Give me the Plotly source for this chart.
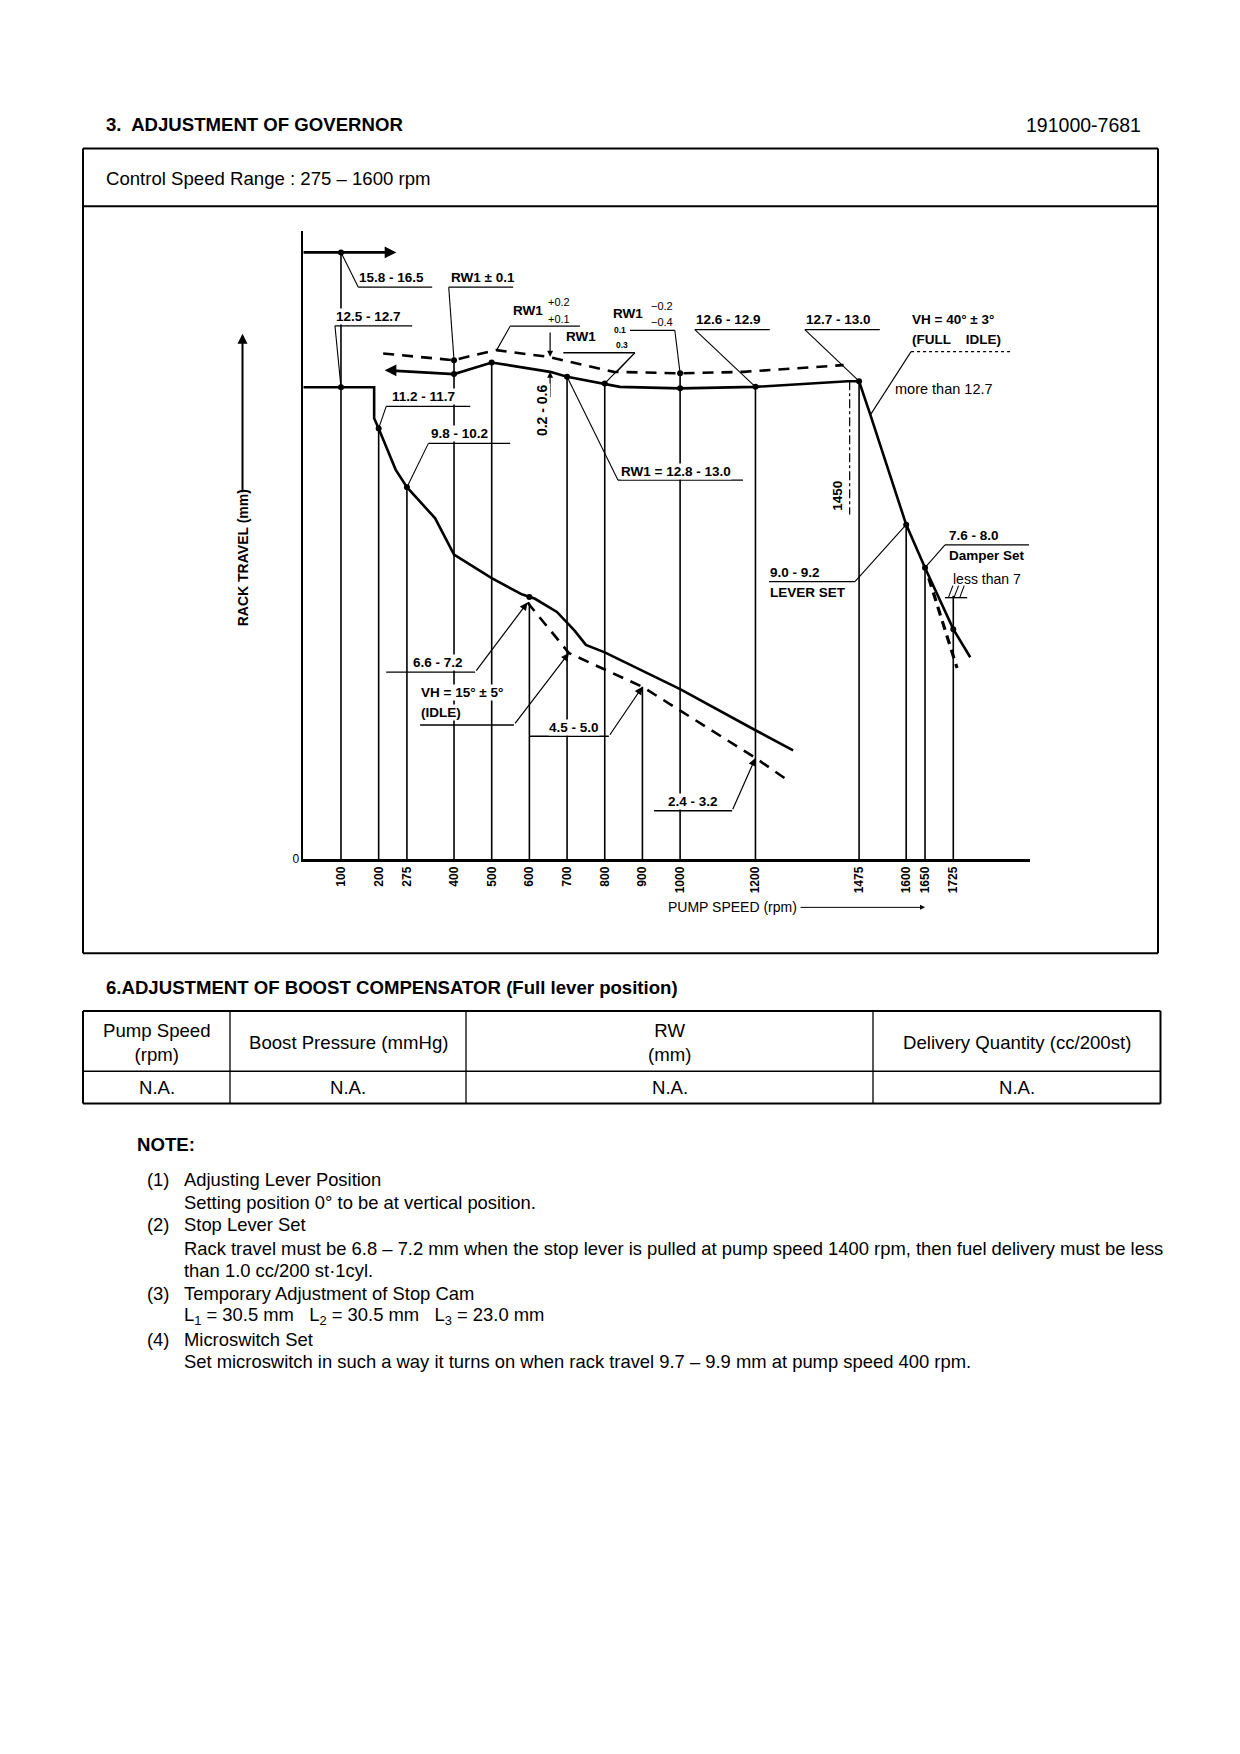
import plotly.graph_objects as go

PAGE_W, PAGE_H = 1240, 1754
BODY_MARGIN = 8  # browser default body margin around the plot div
W, H = PAGE_W - 2 * BODY_MARGIN, PAGE_H - 2 * BODY_MARGIN
FONT = "Liberation Sans, Arial, Helvetica, sans-serif"

# ---------------- data (rpm / rack travel mm) ----------------
SPEEDS = [100, 200, 275, 400, 500, 600, 700, 800, 900, 1000, 1200, 1475, 1600, 1650, 1725]
SPEED_LABELS = ["100", "200", "275", "400", "500", "600", "700", "800", "900",
                "1000", "1200", "1475", "1600", "1650", "1725"]
SPEED_LINE_TOP = [16.2, 11.5, 9.93, 13.32, 13.26, 6.85, 12.88, 12.70, 4.6,
                  12.97, 12.61, 12.76, 8.93, 7.78, 7.03]

MAX_RPM = [0, 235]
MAX_MM = [16.2, 16.2]

FULL_RPM = [224, 400, 500, 655, 700, 800, 840, 1000, 1200, 1445, 1475, 1505, 1600, 1650, 1725, 1770]
FULL_MM = [13.05, 12.95, 13.26, 13.01, 12.88, 12.70, 12.61, 12.57, 12.61, 12.76, 12.76, 11.86, 8.93, 7.78, 6.14, 5.39]

IDLE_RPM = [0, 188, 188, 200, 245, 275, 350, 400, 500, 580, 615, 673, 720, 750, 800, 1000, 1200, 1300]
IDLE_MM = [12.6, 12.6, 11.77, 11.5, 10.4, 9.93, 9.1, 8.13, 7.5, 7.07, 6.95, 6.6, 6.1, 5.72, 5.52, 4.54, 3.44, 2.9]

FULLIDLE_RPM = [212, 400, 451, 513, 549, 651, 824, 1000, 1168, 1434]
FULLIDLE_MM = [13.5, 13.32, 13.45, 13.59, 13.54, 13.41, 13.01, 12.97, 13.01, 13.19]

STOP_RPM = [595, 705, 900, 1200, 1292]
STOP_MM = [6.85, 5.5, 4.6, 2.7, 2.06]

DAMPER_RPM = [1660, 1735]
DAMPER_MM = [7.5, 5.1]

LINE1450_RPM = [1450, 1450]
LINE1450_MM = [12.76, 9.2]

DOT_RPM = [100, 100, 200, 275, 400, 400, 500, 600, 700, 800, 1000, 1000, 1200, 1475, 1600, 1650, 1725]
DOT_MM = [16.2, 12.6, 11.5, 9.93, 13.32, 12.95, 13.26, 7.0, 12.88, 12.70, 12.97, 12.57, 12.61, 12.76, 8.93, 7.78, 6.14]

# ---------------- page geometry helpers (page pixels -> paper) ----------------
def px(x):
    return (x - BODY_MARGIN) / W


def py(y):
    return 1 - (y - BODY_MARGIN) / H


X0_PX, X1_PX = 303.3, 1030.0
Y0_PX, Y1_PX = 862.5, 231.7
PX_PER_RPM = 0.3768
PX_PER_MM = 37.6
X_MAX = (X1_PX - X0_PX) / PX_PER_RPM
Y_MAX = (Y0_PX - Y1_PX) / PX_PER_MM

fig = go.Figure()


def line(xs, ys, width=1.2, dash="solid", color="black"):
    fig.add_trace(go.Scatter(x=xs, y=ys, mode="lines", hoverinfo="skip", showlegend=False,
                             line=dict(color=color, width=width, dash=dash)))


# vertical speed lines
vx, vy = [], []
for s, t in zip(SPEEDS, SPEED_LINE_TOP):
    vx += [s, s, None]
    vy += [0, t, None]
line(vx, vy, width=1.6)
line(LINE1450_RPM, LINE1450_MM, width=1.2, dash="dashdot")

# curves
line(MAX_RPM, MAX_MM, width=2.6)
line(FULL_RPM, FULL_MM, width=2.6)
line(IDLE_RPM, IDLE_MM, width=2.6)
line(FULLIDLE_RPM, FULLIDLE_MM, width=2.6, dash="11px,8px")
line(STOP_RPM, STOP_MM, width=2.6, dash="11px,8px")
line(DAMPER_RPM, DAMPER_MM, width=3.2, dash="9px,6px")

fig.add_trace(go.Scatter(x=DOT_RPM, y=DOT_MM, mode="markers", hoverinfo="skip", showlegend=False,
                         marker=dict(color="black", size=6)))


def arrow(tip, tail, width=1.2, head=2, size=1.0):
    fig.add_annotation(x=tip[0], y=tip[1], ax=tail[0], ay=tail[1], xref="x", yref="y",
                       axref="x", ayref="y", text="", showarrow=True, arrowhead=head,
                       arrowsize=size, arrowwidth=width, arrowcolor="black", standoff=0)


arrow((MAX_RPM[1] + 12, MAX_MM[1]), (MAX_RPM[1] - 20, MAX_MM[1]), width=2.6, size=0.9)
arrow((FULL_RPM[0] - 8, FULL_MM[0]), (FULL_RPM[0] + 25, FULL_MM[0]), width=2.6, size=0.9)

# ---------------- annotation geometry ----------------
UNDERLINES = [(146, 342, 15.27), (386, 557, 15.27), (549, 734, 14.23), (690, 880, 13.52),
              (867, 986, 14.12), (1039, 1238, 14.14), (1331, 1530, 14.14), (220, 443, 12.09),
              (332, 549, 11.1), (835, 1167, 10.12), (1236, 1464, 7.41), (1703, 1926, 8.39),
              (220, 456, 4.99), (310, 559, 3.58), (600, 811, 3.28), (931, 1138, 1.29),
              (84, 289, 14.24), (1703, 1762, 6.98)]
LEADERS = [[(146, 15.27), (100, 16.2)], [(386, 15.27), (400, 13.32)], [(549, 14.23), (513, 13.59)],
           [(832, 13.01), (880, 13.52), (800, 12.70)], [(986, 14.12), (1000, 12.97)],
           [(1039, 14.14), (1200, 12.61)], [(1331, 14.14), (1475, 12.76)],
           [(1613, 13.55), (1505, 11.86)], [(220, 12.09), (200, 11.5)], [(332, 11.1), (275, 9.93)],
           [(835, 10.12), (700, 12.88)], [(1464, 7.41), (1600, 8.93)], [(1703, 8.39), (1650, 7.78)],
           [(84, 14.24), (100, 12.6)],
           [(1712, 6.98), (1724, 7.3)], [(1727, 6.98), (1739, 7.3)], [(1742, 6.98), (1754, 7.3)]]
ux, uy = [], []
for a, b, c in UNDERLINES:
    ux += [a, b, None]
    uy += [c, c, None]
line(ux, uy, width=1.3)
lx, ly = [], []
for pl in LEADERS:
    for p in pl:
        lx.append(p[0])
        ly.append(p[1])
    lx.append(None)
    ly.append(None)
line(lx, ly, width=1.1)
line([1613, 1881], [13.55, 13.55], width=1.3, dash="dot")

for tail, tip in [((456, 4.99), (595, 6.85)), ((559, 3.58), (705, 5.5)),
                  ((811, 3.28), (900, 4.6)), ((1138, 1.29), (1200, 2.7))]:
    arrow(tip, tail, width=1.2, head=2, size=1.3)
arrow((655, 13.41), (655, 14.1), width=1.2, head=2, size=1.0)
arrow((655, 13.01), (655, 12.3), width=1.2, head=2, size=1.0)


def clab(text, x, y, size=13.5, bold=True, angle=0, bg=True, xanchor="left"):
    fig.add_annotation(x=x, y=y, xref="x", yref="y", text=(f"<b>{text}</b>" if bold else text),
                       showarrow=False, xanchor=xanchor, yanchor="middle", textangle=angle,
                       font=dict(family=FONT, size=size, color="black"),
                       bgcolor="white" if bg else "rgba(0,0,0,0)", borderpad=0)


LABELS = [("15.8 - 16.5", 146, 15.54), ("RW1 ± 0.1", 389, 15.54), ("12.5 - 12.7", 84, 14.49),
          ("RW1", 553, 14.65), ("RW1", 695, 13.95), ("RW1", 818, 14.56),
          ("12.6 - 12.9", 1039, 14.40), ("12.7 - 13.0", 1331, 14.40),
          ("VH = 40° ± 3°", 1613, 14.40), ("(FULL    IDLE)", 1613, 13.87),
          ("11.2 - 11.7", 233, 12.35), ("9.8 - 10.2", 336, 11.36),
          ("RW1 = 12.8 - 13.0", 840, 10.36), ("9.0 - 9.2", 1236, 7.66), ("LEVER SET", 1236, 7.12),
          ("7.6 - 8.0", 1711, 8.64), ("Damper Set", 1711, 8.1),
          ("6.6 - 7.2", 288, 5.24), ("VH = 15° ± 5°", 310, 4.45), ("(IDLE)", 310, 3.91),
          ("4.5 - 5.0", 649, 3.52), ("2.4 - 3.2", 965, 1.55)]
for t, x, y in LABELS:
    clab(t, x, y)
for t, x, y in [("+0.2", 646, 14.87), ("+0.1", 646, 14.43), ("−0.2", 920, 14.78), ("−0.4", 920, 14.34)]:
    clab(t, x, y, size=11, bold=False, bg=False)
for t, x, y in [("0.1", 822, 14.12), ("0.3", 826, 13.72)]:
    clab(t, x, y, size=8.5, bold=True, bg=False)
clab("more than 12.7", 1568, 12.54, size=14.5, bold=False, bg=False)
clab("less than 7", 1722, 7.49, size=14, bold=False, bg=False)
clab("0.2 - 0.6", 632, 12.0, size=14, angle=-90, xanchor="center")
clab("1450", 1419, 9.7, size=13.5, angle=-90, xanchor="center")

# axis titles
fig.add_annotation(x=px(242.5), y=py(560), xref="paper", yref="paper", text="<b>RACK TRAVEL (mm)</b>",
                   showarrow=False, textangle=-90, xanchor="center", yanchor="middle",
                   font=dict(family=FONT, size=14, color="black"), bgcolor="white", borderpad=0)
fig.add_annotation(x=px(242.5), y=py(335), ax=0, ay=160, xref="paper", yref="paper", text="",
                   showarrow=True, arrowhead=2, arrowsize=1, arrowwidth=2, arrowcolor="black", standoff=0)
fig.add_annotation(x=px(666), y=py(911), xref="paper", yref="paper", text="PUMP SPEED (rpm)",
                   showarrow=False, xanchor="left", yanchor="middle",
                   font=dict(family=FONT, size=14, color="black"))
fig.add_annotation(x=px(925), y=py(911), ax=-126, ay=0, xref="paper", yref="paper", text="",
                   showarrow=True, arrowhead=2, arrowsize=1, arrowwidth=1, arrowcolor="black", standoff=0)

# ---------------- document text ----------------
def dtext(text, x, y, size=18.6, xanchor="left"):
    fig.add_annotation(x=px(x), y=py(y), xref="paper", yref="paper", text=text, showarrow=False,
                       xanchor=xanchor, yanchor="middle", align="center",
                       font=dict(family=FONT, size=size, color="black"))


dtext("<b>3.  ADJUSTMENT OF GOVERNOR</b>", 104, 125)
dtext("191000-7681", 1143, 125, size=19.5, xanchor="right")
dtext("Control Speed Range : 275 – 1600 rpm", 104, 179)
dtext("<b>6.ADJUSTMENT OF BOOST COMPENSATOR (Full lever position)</b>", 104, 991)

TABLE_HEAD = ["Pump Speed<br>(rpm)", "Boost Pressure (mmHg)", "RW<br>(mm)", "Delivery Quantity (cc/200st)"]
TABLE_ROW = ["N.A.", "N.A.", "N.A.", "N.A."]
COL_EDGES = [83, 230, 466, 873, 1160.5]
for i, (hd, rv) in enumerate(zip(TABLE_HEAD, TABLE_ROW)):
    cx = (COL_EDGES[i] + COL_EDGES[i + 1]) / 2
    dtext(hd, cx, 1047, xanchor="center")
    dtext(rv, cx, 1092, xanchor="center")

dtext("<b>NOTE:</b>", 135, 1149)
NOTES = [("(1)", "Adjusting Lever Position"), ("", "Setting position 0° to be at vertical position."),
         ("(2)", "Stop Lever Set"),
         ("", "Rack travel must be 6.8 – 7.2 mm when the stop lever is pulled at pump speed 1400 rpm, then fuel delivery must be less"),
         ("", "than 1.0 cc/200 st·1cyl."), ("(3)", "Temporary Adjustment of Stop Cam"),
         ("", "L<sub>1</sub> = 30.5 mm\u00a0\u00a0\u00a0L<sub>2</sub> = 30.5 mm\u00a0\u00a0\u00a0L<sub>3</sub> = 23.0 mm"),
         ("(4)", "Microswitch Set"),
         ("", "Set microswitch in such a way it turns on when rack travel 9.7 – 9.9 mm at pump speed 400 rpm.")]
NOTE_Y = [1184, 1207.5, 1229.8, 1253.4, 1275.7, 1299.2, 1321.5, 1345, 1367.4]
for (num, txt), yy in zip(NOTES, NOTE_Y):
    if num:
        dtext(num, 145, yy, size=18.4)
    dtext(txt, 182, yy, size=18.4)

# ---------------- frames ----------------
def pline(x0, y0, x1, y1, w=2.0):
    fig.add_shape(type="line", xref="paper", yref="paper", x0=px(x0), y0=py(y0), x1=px(x1), y1=py(y1),
                  line=dict(color="black", width=w))


pline(83, 149, 1158, 149)
pline(83, 207, 1158, 207)
pline(83, 957, 1158, 957)
pline(83, 149, 83, 957)
pline(1158, 149, 1158, 957)
pline(83, 1015, 1160.5, 1015)
pline(83, 1075.6, 1160.5, 1075.6, 1.5)
pline(83, 1108, 1160.5, 1108)
pline(83, 1015, 83, 1108)
pline(1160.5, 1015, 1160.5, 1108)
for xc in COL_EDGES[1:-1]:
    pline(xc, 1015, xc, 1108, 1.3)

fig.update_layout(
    width=W, height=H, margin=dict(l=0, r=0, t=0, b=0),
    paper_bgcolor="white", plot_bgcolor="white", showlegend=False, hovermode=False,
    xaxis=dict(domain=[px(X0_PX), px(X1_PX)], range=[0, X_MAX], showgrid=False, zeroline=False,
               showline=True, linecolor="black", linewidth=2.5, ticks="",
               tickmode="array", tickvals=SPEEDS, ticktext=SPEED_LABELS, tickangle=-90,
               tickfont=dict(family=FONT, size=12, color="black", weight="bold")),
    yaxis=dict(domain=[py(Y0_PX), py(Y1_PX)], range=[0, Y_MAX], showgrid=False, zeroline=False,
               showline=True, linecolor="black", linewidth=1.5, ticks="",
               tickmode="array", tickvals=[0], ticktext=["0"],
               tickfont=dict(family=FONT, size=12, color="black")),
)

fig.write_html("out.html", config={"displayModeBar": False})
